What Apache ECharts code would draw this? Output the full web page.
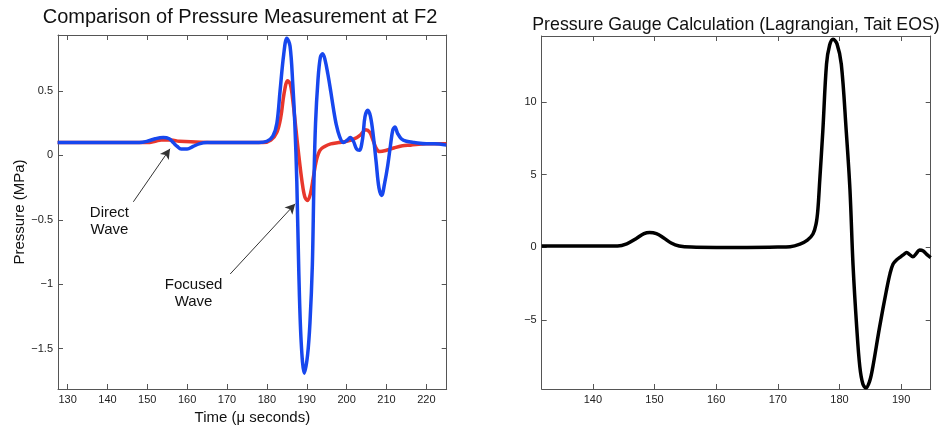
<!DOCTYPE html>
<html>
<head>
<meta charset="utf-8">
<script src="https://cdn.jsdelivr.net/npm/echarts@6/dist/echarts.min.js"></script>
<style>
html,body{margin:0;padding:0;background:#fff;}
#chart{width:945px;height:426px;}
</style>
</head>
<body>
<div id="chart"></div>
<script>
// ---- Data ----
const blueTime = [127.5,140,148,150,152,154,155.5,156.5,157.5,158.5,160,161.5,163,165,175,178,180,181.5,182.5,183.3,184.2,185.0,185.8,186.5,187.0,187.5,188.0,188.6,189.4,190.2,190.8,191.4,191.8,192.2,192.8,193.4,194.0,194.6,195.3,196.0,196.7,197.4,198.2,199.2,200.2,200.9,201.7,202.5,203.2,204.0,204.6,205.3,206.0,206.7,207.4,208.1,208.8,209.5,210.3,211.0,211.6,212.1,212.8,213.7,215,217,220,222,225];
const bluePressure = [0.1,0.1,0.1,0.11,0.13,0.14,0.13,0.10,0.07,0.05,0.05,0.07,0.09,0.1,0.1,0.1,0.11,0.15,0.25,0.5,0.78,0.91,0.85,0.55,0.25,-0.2,-0.9,-1.45,-1.69,-1.55,-1.3,-0.85,-0.2,0.25,0.58,0.76,0.79,0.74,0.63,0.5,0.36,0.24,0.15,0.1,0.12,0.14,0.11,0.05,0.04,0.13,0.3,0.35,0.3,0.15,-0.05,-0.25,-0.31,-0.22,-0.08,0.08,0.2,0.22,0.17,0.13,0.11,0.1,0.09,0.09,0.08];
const redTime = [127.5,150,152,153.5,156,158,168,176,179,181,182.5,183.5,184.3,185.2,185.9,186.6,187.3,188.0,188.8,189.5,190.2,190.9,191.6,192.4,193.3,194.5,196,198,200,202,203.5,204.8,205.8,206.6,207.5,208.3,210,212,214,216,220,225];
const redPressure = [0.1,0.1,0.11,0.12,0.12,0.11,0.1,0.1,0.1,0.12,0.18,0.3,0.48,0.58,0.55,0.4,0.2,0.0,-0.2,-0.32,-0.35,-0.3,-0.18,-0.04,0.04,0.07,0.09,0.1,0.11,0.13,0.16,0.2,0.18,0.12,0.05,0.03,0.04,0.06,0.075,0.08,0.09,0.09];
const calcTime = [131.7,140,144,145.5,147,148.3,149.2,150.3,151.5,152.7,154,156,160,165,170,172,173.6,174.8,175.7,176.2,176.5,176.8,177.3,177.9,178.4,178.96,179.6,180.3,181.1,181.7,182.2,182.8,183.3,183.8,184.3,184.9,185.4,186.5,187.6,188.2,188.7,189.3,189.8,190.4,190.9,191.4,191.9,192.5,193.0,193.6,194.2,194.8];
const calcPressure = [0.1,0.1,0.1,0.25,0.6,0.95,1.03,0.95,0.65,0.3,0.1,0.02,0.0,0.0,0.02,0.05,0.23,0.5,0.92,1.6,2.6,4.6,8.0,12.6,13.9,14.32,14.0,12.6,8.0,4.0,-1.2,-5.5,-8.2,-9.4,-9.66,-9.2,-8.25,-5.5,-3.0,-1.8,-1.14,-0.85,-0.69,-0.5,-0.35,-0.5,-0.65,-0.4,-0.18,-0.25,-0.5,-0.7];

const leftXTicks = [130,140,150,160,170,180,190,200,210,220];
const leftYTicks = [-1.5,-1,-0.5,0,0.5];
const rightXTicks = [140,150,160,170,180,190];
const rightYTicks = [-5,0,5,10];

// annotations: text anchor, arrow [from, to]
const directText = [140.5, -0.509];
const directArrow = [[146.5, -0.36], [155.7, 0.052]];
const focusedText = [161.6, -1.069];
const focusedArrow = [[170.8, -0.92], [187.1, -0.375]];

// ---- Chart ----
const FONT = '"Liberation Sans", Arial, Helvetica, sans-serif';
const fmt = v => (v < 0 ? '\u2212' + Math.abs(v) : String(v));
const zip = (a, b) => a.map((x, i) => [x, b[i]]);

function axis(grid, pos, min, max, ticks, showLabel, extra) {
  return Object.assign({
    type: 'value', gridIndex: grid, position: pos, min: min, max: max,
    splitLine: {show: false},
    axisLine: {show: true, onZero: false, lineStyle: {color: '#555', width: 1}},
    axisTick: {show: true, inside: true, length: 5, customValues: ticks, lineStyle: {color: '#555'}},
    axisLabel: {show: showLabel, customValues: ticks, formatter: fmt, color: '#222', fontSize: 11, fontFamily: FONT, margin: 5}
  }, extra || {});
}

const chart = echarts.init(document.getElementById('chart'), null, {renderer: 'canvas'});
chart.setOption({
  animation: false,
  backgroundColor: '#fff',
  title: [
    {text: 'Comparison of Pressure Measurement at F2', left: 235, top: 2, textAlign: 'center',
     textStyle: {fontFamily: FONT, fontSize: 20, fontWeight: 'normal', color: '#111'}},
    {text: 'Pressure Gauge Calculation (Lagrangian, Tait EOS)', left: 731, top: 11, textAlign: 'center',
     textStyle: {fontFamily: FONT, fontSize: 17.75, fontWeight: 'normal', color: '#111'}}
  ],
  grid: [
    {left: 58, top: 35, width: 388.7, height: 354, outerBoundsMode: 'none', containLabel: false},
    {left: 541.7, top: 36, width: 389, height: 353, outerBoundsMode: 'none', containLabel: false}
  ],
  xAxis: [
    axis(0, 'bottom', 127.6, 225.1, leftXTicks, true, {
      name: 'Time (\u03bc seconds)', nameLocation: 'middle', nameGap: 19,
      nameTextStyle: {fontFamily: FONT, fontSize: 15, color: '#111'}}),
    axis(0, 'top', 127.6, 225.1, leftXTicks, false),
    axis(1, 'bottom', 131.7, 194.8, rightXTicks, true),
    axis(1, 'top', 131.7, 194.8, rightXTicks, false)
  ],
  yAxis: [
    axis(0, 'left', -1.813, 0.935, leftYTicks, true, {
      name: 'Pressure (MPa)', nameLocation: 'middle', nameGap: 30, nameRotate: 90,
      nameTextStyle: {fontFamily: FONT, fontSize: 15, color: '#111'}}),
    axis(0, 'right', -1.813, 0.935, leftYTicks, false),
    axis(1, 'left', -9.74, 14.54, rightYTicks, true),
    axis(1, 'right', -9.74, 14.54, rightYTicks, false)
  ],
  series: [
    {type: 'line', xAxisIndex: 0, yAxisIndex: 0, data: zip(redTime, redPressure),
     showSymbol: false, smooth: 0.35, lineStyle: {color: '#e8372c', width: 3.5}, z: 2},
    {type: 'line', xAxisIndex: 0, yAxisIndex: 0, data: zip(blueTime, bluePressure),
     showSymbol: false, smooth: 0.35, lineStyle: {color: '#1747ee', width: 3.5}, z: 3,
     markLine: {
       silent: true, symbol: ['none', 'arrow'], symbolSize: [8, 10],
       label: {show: false},
       lineStyle: {color: '#333', width: 1, type: 'solid'},
       itemStyle: {color: '#111'},
       data: [
         [{coord: directArrow[0]}, {coord: directArrow[1]}],
         [{coord: focusedArrow[0]}, {coord: focusedArrow[1]}]
       ]
     }},
    {type: 'scatter', xAxisIndex: 0, yAxisIndex: 0, symbolSize: 0, silent: true, z: 5,
     itemStyle: {opacity: 1},
     data: [
       {value: directText, label: {formatter: 'Direct\nWave'}},
       {value: focusedText, label: {formatter: 'Focused\nWave'}}
     ],
     label: {show: true, position: 'inside', align: 'center', verticalAlign: 'middle',
             fontFamily: FONT, fontSize: 15, lineHeight: 17, color: '#111', opacity: 1}},
    {type: 'line', xAxisIndex: 2, yAxisIndex: 2, data: zip(calcTime, calcPressure),
     showSymbol: false, smooth: 0.35, lineStyle: {color: '#000', width: 3.5}, z: 2}
  ]
});
</script>
</body>
</html>
